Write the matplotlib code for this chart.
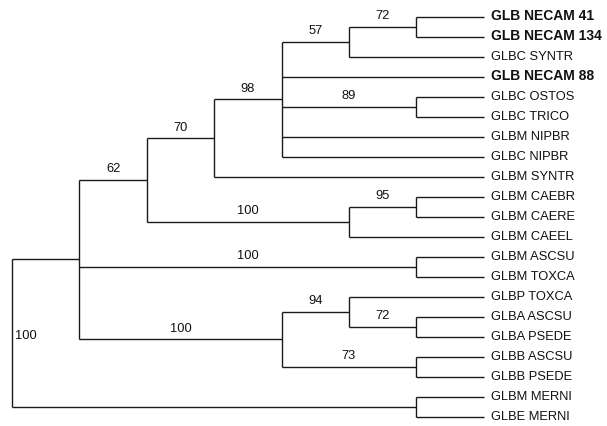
import matplotlib
matplotlib.use("Agg")
import matplotlib.pyplot as plt

# ---- data ----
leaves = ["GLB NECAM 41", "GLB NECAM 134", "GLBC SYNTR", "GLB NECAM 88",
          "GLBC OSTOS", "GLBC TRICO", "GLBM NIPBR", "GLBC NIPBR", "GLBM SYNTR",
          "GLBM CAEBR", "GLBM CAERE", "GLBM CAEEL", "GLBM ASCSU", "GLBM TOXCA",
          "GLBP TOXCA", "GLBA ASCSU", "GLBA PSEDE", "GLBB ASCSU", "GLBB PSEDE",
          "GLBM MERNI", "GLBE MERNI"]
bold_leaves = ["GLB NECAM 41", "GLB NECAM 134", "GLB NECAM 88"]

# internal node: name -> (depth level, children, bootstrap support on incoming branch)
node_names = ["G", "F", "OT", "E", "D", "CB", "CA", "B", "AT", "GA", "H", "GB", "C", "A", "MR", "ROOT"]
node_depth = [6, 5, 6, 4, 3, 6, 5, 2, 6, 6, 5, 6, 4, 1, 6, 0]
node_children = [
    ["GLB NECAM 41", "GLB NECAM 134"],
    ["G", "GLBC SYNTR"],
    ["GLBC OSTOS", "GLBC TRICO"],
    ["F", "GLB NECAM 88", "OT", "GLBM NIPBR", "GLBC NIPBR"],
    ["E", "GLBM SYNTR"],
    ["GLBM CAEBR", "GLBM CAERE"],
    ["CB", "GLBM CAEEL"],
    ["D", "CA"],
    ["GLBM ASCSU", "GLBM TOXCA"],
    ["GLBA ASCSU", "GLBA PSEDE"],
    ["GLBP TOXCA", "GA"],
    ["GLBB ASCSU", "GLBB PSEDE"],
    ["H", "GB"],
    ["B", "AT", "C"],
    ["GLBM MERNI", "GLBE MERNI"],
    ["A", "MR"],
]
node_support = [72, 57, 89, 98, 70, 95, 100, 62, 100, 72, 94, 73, 100, None, None, None]
root_support = 100
leaf_depth = 7

# ---- layout computation ----
depth = {n: d for n, d in zip(node_names, node_depth)}
children = {n: c for n, c in zip(node_names, node_children)}
support = {n: s for n, s in zip(node_names, node_support)}
for i, lf in enumerate(leaves):
    depth[lf] = leaf_depth

ypos = {lf: i for i, lf in enumerate(leaves)}

def get_y(n):
    if n in ypos:
        return ypos[n]
    ys = [get_y(c) for c in children[n]]
    ypos[n] = (ys[0] + ys[-1]) / 2.0
    return ypos[n]

get_y("ROOT")

W, H = 607, 426
fig = plt.figure(figsize=(W / 100, H / 100), dpi=100)
ax = fig.add_axes([0, 0, 1, 1])
ax.axis("off")

x0_px, step_px = 12.0, 67.4
y0_px, ystep_px = 16.5, 20.0
ax.set_xlim(-x0_px / step_px, (W - x0_px) / step_px)
ax.set_ylim((H - y0_px) / ystep_px, -y0_px / ystep_px)

lc = "#1a1a1a"
lw = 1.0
fs = 9.3
fs_bold = 10
font = ["Liberation Sans", "DejaVu Sans"]

parent = {}
for n in node_names:
    for c in children[n]:
        parent[c] = n

for n in node_names:
    ch = children[n]
    ys = [ypos[c] for c in ch]
    ax.plot([depth[n], depth[n]], [min(ys), max(ys)], color=lc, lw=lw, solid_capstyle="butt")
    for c in ch:
        ax.plot([depth[n], depth[c]], [ypos[c], ypos[c]], color=lc, lw=lw, solid_capstyle="butt")

# bootstrap labels on incoming branches
for n in node_names:
    s = support[n]
    if s is None:
        continue
    p = parent[n]
    xm = (depth[p] + depth[n]) / 2.0
    ax.annotate(str(s), (xm, ypos[n]), xytext=(0, 3), textcoords="offset points",
                ha="center", va="bottom", fontsize=fs, family=font, color="#111")

# root support beside root vertical
ax.annotate(str(root_support), (depth["ROOT"], ypos["ROOT"] + 0.15), xytext=(2.5, 0),
            textcoords="offset points", ha="left", va="center", fontsize=fs,
            family=font, color="#111")

# leaf labels
for lf in leaves:
    isb = lf in bold_leaves
    ax.annotate(lf, (leaf_depth, ypos[lf]), xytext=(5, 0), textcoords="offset points",
                ha="left", va="center", fontsize=fs_bold if isb else fs, family=font,
                color="#111", fontweight="bold" if isb else "normal")

fig.savefig("out.png", dpi=100)
